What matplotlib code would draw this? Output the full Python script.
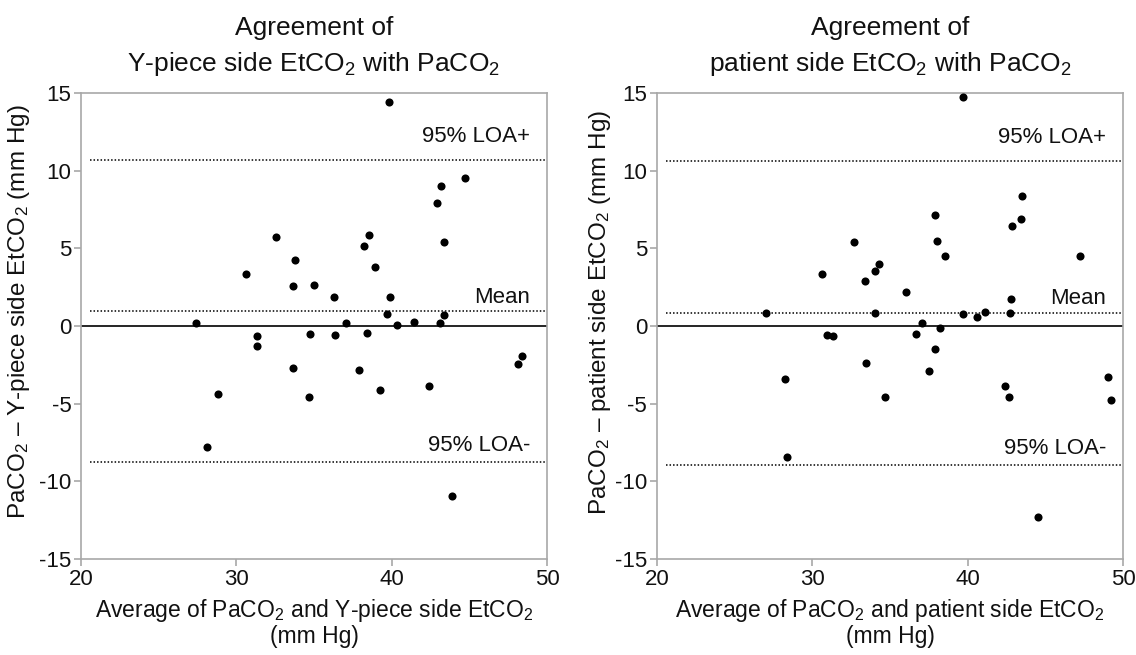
import matplotlib
matplotlib.use("Agg")
import matplotlib.pyplot as plt

plt.rcParams['font.family'] = ['Liberation Sans', 'DejaVu Sans']
plt.rcParams['mathtext.fontset'] = 'custom'
plt.rcParams['mathtext.rm'] = 'Liberation Sans'
plt.rcParams['mathtext.it'] = 'Liberation Sans:italic'
plt.rcParams['axes.unicode_minus'] = False

# dados - lado Y-piece
ypiece_avg = [39.86, 44.73, 43.20, 42.93, 43.38, 32.53, 38.57, 38.21, 38.90, 33.77,
              30.64, 33.62, 34.97, 36.26, 39.92, 27.41, 31.31, 31.35, 34.76, 36.37,
              37.09, 38.44, 39.71, 40.37, 41.47, 43.10, 43.36, 33.64, 37.91, 39.26,
              42.39, 34.69, 28.80, 28.09, 48.11, 48.37, 43.87]
ypiece_diff = [14.44, 9.51, 9.04, 7.90, 5.43, 5.75, 5.84, 5.15, 3.82, 4.23,
               3.33, 2.60, 2.66, 1.87, 1.89, 0.17, -0.64, -1.31, -0.50, -0.56,
               0.19, -0.47, 0.77, 0.06, 0.28, 0.21, 0.69, -2.70, -2.83, -4.14,
               -3.84, -4.59, -4.40, -7.79, -2.43, -1.91, -10.93]
ypiece_lines = [10.67, 0.95, -8.74]  # LOA+, media, LOA-

# lado do paciente
patient_avg = [39.68, 43.49, 43.43, 42.85, 37.88, 38.03, 38.52, 47.22, 32.67, 34.28,
               34.06, 30.61, 33.42, 36.06, 42.81, 27.03, 34.06, 39.68, 40.58, 41.09,
               42.75, 37.06, 38.24, 36.70, 30.95, 31.32, 37.88, 33.46, 37.54, 28.25,
               34.68, 42.40, 42.68, 49.02, 49.24, 28.38, 44.52]
patient_diff = [14.77, 8.37, 6.91, 6.44, 7.17, 5.47, 4.49, 4.51, 5.41, 3.97,
                3.56, 3.33, 2.90, 2.19, 1.72, 0.86, 0.86, 0.77, 0.58, 0.92,
                0.86, 0.19, -0.13, -0.50, -0.60, -0.64, -1.48, -2.36, -2.90, -3.39,
                -4.59, -3.84, -4.59, -3.26, -4.74, -8.46, -12.28]
patient_lines = [10.65, 0.86, -8.95]

line_labels = ["95% LOA+", "Mean", "95% LOA-"]
label_off = [1.5, 0.9, 1.05]

sub2 = r"$\mathregular{_2}$"
titles = ["Agreement of\nY-piece side EtCO" + sub2 + " with PaCO" + sub2,
          "Agreement of\npatient side EtCO" + sub2 + " with PaCO" + sub2]
ylabels = ["PaCO" + sub2 + " \u2013 Y-piece side EtCO" + sub2 + " (mm Hg)",
           "PaCO" + sub2 + " \u2013 patient side EtCO" + sub2 + " (mm Hg)"]
xlabels = ["Average of PaCO" + sub2 + " and Y-piece side EtCO" + sub2 + "\n(mm Hg)",
           "Average of PaCO" + sub2 + " and patient side EtCO" + sub2 + "\n(mm Hg)"]
ylab_x = [-0.105, -0.094]

fig = plt.figure(figsize=(11.36, 6.55), dpi=100)
ax1 = fig.add_axes([0.0713, 0.1466, 0.4102, 0.7114])
ax2 = fig.add_axes([0.5783, 0.1466, 0.4103, 0.7114])

dados = [(ax1, ypiece_avg, ypiece_diff, ypiece_lines),
         (ax2, patient_avg, patient_diff, patient_lines)]

for i, (ax, xs, ys, lines) in enumerate(dados):
    ax.scatter(xs, ys, s=34, color='black', zorder=3, linewidths=0)
    ax.axhline(0, color='black', lw=1.2, zorder=2)
    for j in range(3):
        ax.axhline(lines[j], xmin=0.02, xmax=0.995, color='black', lw=1.1,
                   linestyle=(0, (1.0, 1.3)), zorder=2)
        ax.text(48.9, lines[j] + label_off[j], line_labels[j], ha='right',
                va='center', fontsize=16, color='#111111')
    ax.set_xlim(20, 50)
    ax.set_ylim(-15, 15)
    ax.set_xticks([20, 30, 40, 50])
    ax.set_yticks([-15, -10, -5, 0, 5, 10, 15])
    for s in ax.spines.values():
        s.set_color('#a8a8a8')
        s.set_linewidth(1.2)
    ax.tick_params(direction='out', length=5, width=1.2, color='#a8a8a8',
                   labelsize=16, labelcolor='#111111', pad=2)
    ax.set_title(titles[i], fontsize=19, pad=16, color='#111111', linespacing=1.45)
    ax.set_ylabel(ylabels[i], fontsize=17.5, color='#111111')
    ax.yaxis.set_label_coords(ylab_x[i], 0.53)
    ax.set_xlabel(xlabels[i], fontsize=16.5, labelpad=5, color='#111111',
                  linespacing=1.1)

fig.savefig("out.png", dpi=100)
